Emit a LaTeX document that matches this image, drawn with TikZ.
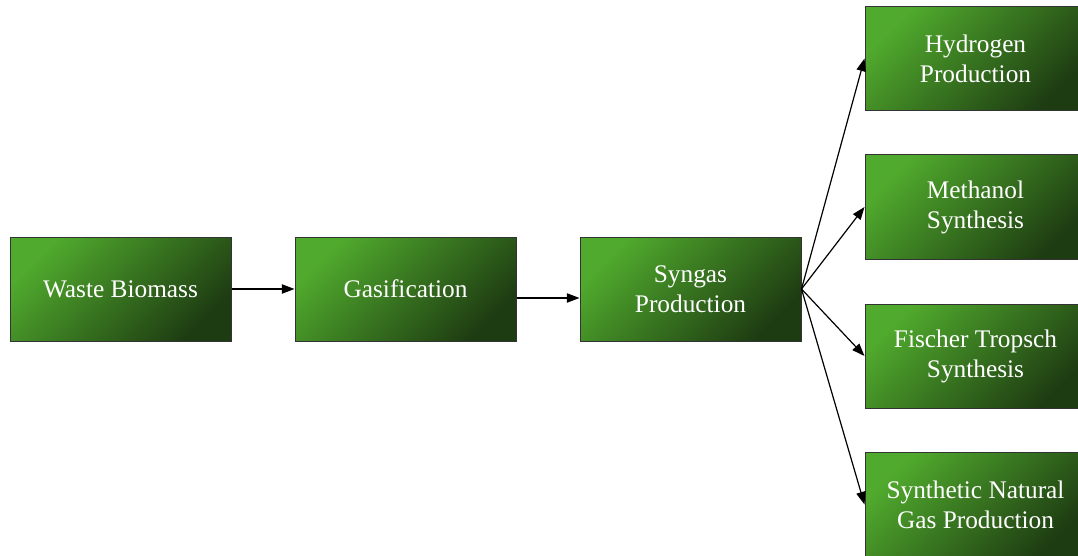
\documentclass[tikz,border=0pt]{standalone}
\usepackage{fontspec}
\setmainfont{Liberation Serif}
\usepackage{xcolor}
\usepackage{tikz}
\usetikzlibrary{arrows.meta}
\definecolor{leafgreen}{RGB}{80,170,45}
\definecolor{deepgreen}{RGB}{30,60,18}

\begin{document}
\begin{tikzpicture}[x=0.75pt, y=-0.75pt, >={Triangle[length=9.5pt, width=7pt]}]
\tikzstyle{stage}=[rectangle, draw=black!80, line width=0.75pt, minimum width=165.75pt, minimum height=78pt, inner sep=0pt, top color=leafgreen, bottom color=deepgreen, shading angle=45, text=white, align=center, font=\fontsize{19}{22.5}\selectfont]
\useasboundingbox (0,0) rectangle (1078,556);
\clip (0,0) rectangle (1078,556);

\node[stage] (waste) at (120.5,289) {Waste Biomass};
\node[stage] (gas) at (405.5,289) {Gasification};
\node[stage] (syn) at (690.5,289) {Syngas\\Production};
\node[stage] (hyd) at (975.5,58.5) {Hydrogen\\Production};
\node[stage] (meth) at (975.5,207) {Methanol\\Synthesis};
\node[stage] (fis) at (975.5,356) {Fischer Tropsch\\Synthesis};
\node[stage] (snat) at (975.5,504.5) {Synthetic Natural\\Gas Production};

\path[->, line width=0.9pt]
(waste) edge (gas)
([yshift=-6.75pt]gas.east) edge ([yshift=-6.75pt]syn.west)
(syn.east) edge (hyd.west)
    edge (meth.west)
    edge (fis.west)
    edge (snat.west);

\end{tikzpicture}
\end{document}
